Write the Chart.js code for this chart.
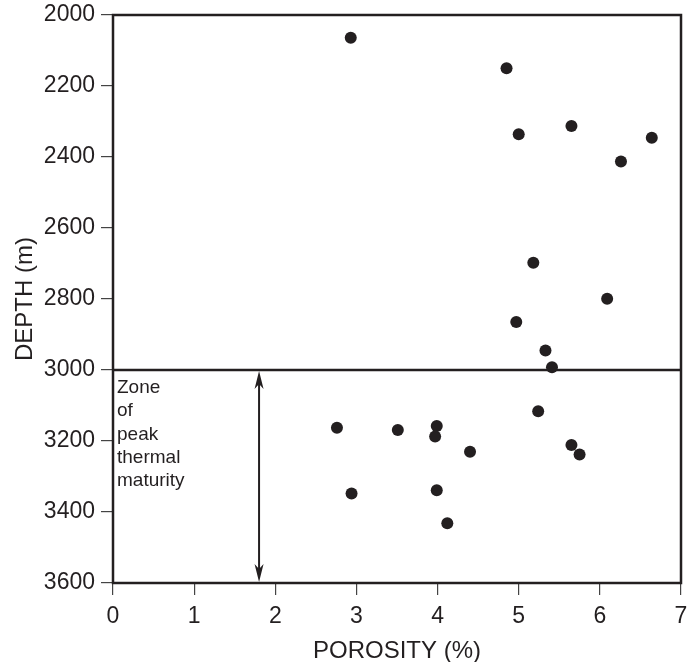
<!DOCTYPE html>
<html>
<head>
<meta charset="utf-8">
<script src="https://cdn.jsdelivr.net/npm/chart.js@4"></script>
<style>
  html, body { margin: 0; padding: 0; background: #fff; }
  #wrap { width: 698px; height: 662px; }
</style>
</head>
<body>
<div id="wrap"><canvas id="chart" width="698" height="662"></canvas></div>
<script>
// porosity (%) and depth (m) of each sample
const porosity = [2.93, 4.85, 5.65, 5.00, 6.64, 6.26, 5.18, 6.09, 4.97, 5.33, 5.41,
    5.24, 2.76, 3.51, 3.99, 3.97, 4.40, 5.65, 5.75, 2.94, 3.99, 4.12];
const depth = [2064, 2150, 2313, 2336, 2346, 2413, 2698, 2799, 2865, 2945, 2992,
    3116, 3163, 3169, 3158, 3187, 3230, 3211, 3238, 3348, 3339, 3432];

const xTicks = [0, 1, 2, 3, 4, 5, 6, 7];
const yTicks = [2000, 2200, 2400, 2600, 2800, 3000, 3200, 3400, 3600];

const zoneTop = 3000;
const zoneBottom = 3600;
const arrowX = 1.8;
const zoneLabel = ['Zone', 'of', 'peak', 'thermal', 'maturity'];

const ink = '#231f20';
const font = '"Liberation Sans", Arial, Helvetica, sans-serif';

const points = porosity.map((p, i) => ({ x: p, y: depth[i] }));

const arrowHead = (ctx, x, y, dir) => {
    // dir = -1 points up, 1 points down
    ctx.beginPath();
    ctx.moveTo(x, y);
    ctx.lineTo(x - 4.5, y - dir * 18);
    ctx.lineTo(x, y - dir * 13);
    ctx.lineTo(x + 4.5, y - dir * 18);
    ctx.closePath();
    ctx.fill();
};

const overlay = {
    id: 'overlay',
    afterDatasetsDraw(chart) {
        const { ctx, chartArea: a, scales } = chart;
        const xs = scales.x;
        const ys = scales.y;
        ctx.save();
        ctx.strokeStyle = ink;
        ctx.fillStyle = ink;

        // frame
        ctx.lineWidth = 2.5;
        ctx.strokeRect(a.left, a.top, a.right - a.left, a.bottom - a.top);

        // double arrow across the zone
        const ax = xs.getPixelForValue(arrowX);
        const y1 = ys.getPixelForValue(zoneTop) + 1;
        const y2 = ys.getPixelForValue(zoneBottom) - 1;
        ctx.lineWidth = 2;
        ctx.beginPath();
        ctx.moveTo(ax, y1 + 10);
        ctx.lineTo(ax, y2 - 10);
        ctx.stroke();
        arrowHead(ctx, ax, y1, -1);
        arrowHead(ctx, ax, y2, 1);

        // zone label
        ctx.font = '19px ' + font;
        ctx.textAlign = 'left';
        ctx.textBaseline = 'alphabetic';
        const ty = ys.getPixelForValue(zoneTop) + 23;
        zoneLabel.forEach((t, i) => {
            ctx.fillText(t, a.left + 4, ty + i * 23.3);
        });
        ctx.restore();
    },
};

new Chart(document.getElementById('chart'), {
    type: 'scatter',
    data: {
        datasets: [
            {
                type: 'line',
                data: [{ x: xTicks[0], y: zoneTop }, { x: xTicks[xTicks.length - 1], y: zoneTop }],
                borderColor: ink,
                borderWidth: 2.5,
                pointRadius: 0,
                order: 2,
            },
            {
                data: points,
                backgroundColor: ink,
                borderColor: ink,
                pointRadius: 6,
                pointHoverRadius: 6,
                borderWidth: 0,
                order: 1,
            },
        ],
    },
    options: {
        responsive: false,
        animation: false,
        events: [],
        layout: { padding: { top: 15, right: 17, left: 0, bottom: 0 } },
        plugins: { legend: { display: false }, tooltip: { enabled: false } },
        scales: {
            x: {
                type: 'linear',
                min: xTicks[0],
                max: xTicks[xTicks.length - 1],
                afterBuildTicks: (s) => { s.ticks = xTicks.map((v) => ({ value: v })); },
                afterFit: (s) => {
                    s.height = 79;
                    s.paddingLeft = 0;
                    s.paddingRight = 0;
                },
                grid: { drawOnChartArea: false, tickLength: 12, color: '#444', lineWidth: 1.2 },
                border: { display: false },
                ticks: {
                    color: ink,
                    font: { family: font, size: 23, lineHeight: 1 },
                    padding: 10,
                    callback: (v) => String(v),
                },
                title: {
                    display: true,
                    text: 'POROSITY (%)',
                    color: ink,
                    font: { family: font, size: 24, lineHeight: 1 },
                    padding: { top: 0, bottom: -1 },
                },
            },
            y: {
                type: 'linear',
                reverse: true,
                min: yTicks[0],
                max: yTicks[yTicks.length - 1],
                afterBuildTicks: (s) => { s.ticks = yTicks.map((v) => ({ value: v })); },
                afterFit: (s) => {
                    s.width = 113;
                    s.paddingTop = 0;
                    s.paddingBottom = 0;
                },
                grid: { drawOnChartArea: false, tickLength: 12, color: '#444', lineWidth: 1.2 },
                border: { display: false },
                ticks: {
                    color: ink,
                    font: { family: font, size: 23, lineHeight: 1 },
                    padding: 6,
                    callback: (v) => String(v),
                },
                title: {
                    display: true,
                    text: 'DEPTH (m)',
                    color: ink,
                    font: { family: font, size: 24, lineHeight: 1 },
                    padding: { top: 13, bottom: 0 },
                },
            },
        },
    },
    plugins: [overlay],
});
</script>
</body>
</html>
